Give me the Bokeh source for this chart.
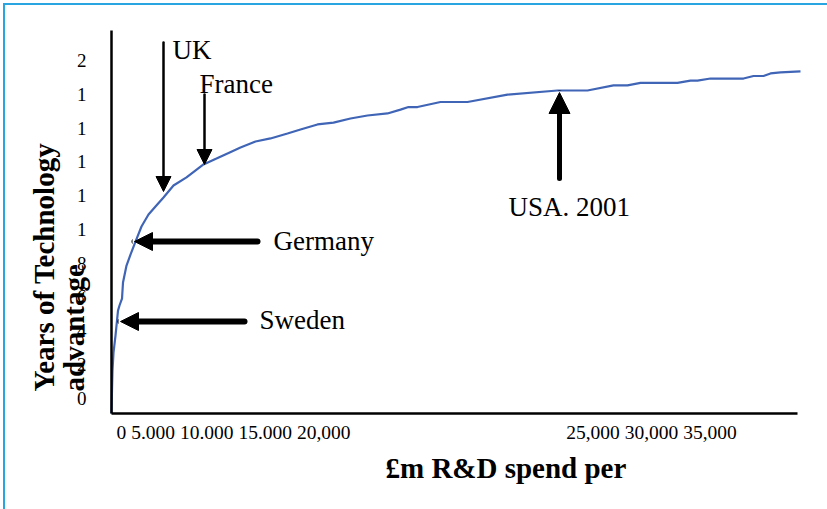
import math
from bokeh.plotting import figure
from bokeh.models import Range1d, LinearAxis, FixedTicker, Arrow, NormalHead, Label
from bokeh.embed import file_html
from bokeh.resources import INLINE

# ---------------- data ----------------
spend = [0, 29, 58, 116, 232, 377, 464, 609, 667, 870, 1101, 1391, 1739, 2145,
         2551, 3014, 3594, 4348, 5333, 6087, 6725, 7478, 8348, 9217, 10203,
         10957, 11942, 12870, 13855, 14841, 16000, 16754, 17217, 17739, 19072,
         20638, 22957, 25855, 27594, 29101, 29913, 30667, 32812, 33565, 33971,
         34725, 36638, 37217, 37797, 38203, 38783, 39942]
years = [0.00, 1.36, 2.55, 3.61, 4.62, 6.10, 6.40, 6.81, 7.76, 8.77, 9.42,
         10.19, 11.08, 11.79, 12.27, 12.80, 13.51, 13.99, 14.76, 15.11, 15.41,
         15.76, 16.12, 16.30, 16.59, 16.83, 17.13, 17.24, 17.48, 17.66, 17.78,
         18.01, 18.16, 18.16, 18.46, 18.46, 18.90, 19.14, 19.14, 19.44, 19.44,
         19.59, 19.59, 19.73, 19.73, 19.85, 19.85, 20.00, 20.00, 20.15, 20.21,
         20.27]

y_ticks = [0, 2, 4, 6, 8, 10, 12, 14, 16, 18, 20]
y_tick_labels = ["0", "2", "4", "6", "8", "1", "1", "1", "1", "1", "2"]
x_tick_labels = ["0 5.000 10.000 15.000 20,000", "25,000 30,000 35,000"]

countries = ["UK", "France", "Germany", "Sweden", "USA. 2001"]

y_title_lines = ["Years of Technology", "advantage"]
x_title = "£m R&D spend per"

# ---------------- layout (pixel <-> data helpers) ----------------
W, H = 827, 509
AX_L, AX_R, AX_T, AX_B = 111, 801, 30, 413   # axis corner pixels
X_MAX = 40000
PX_PER_YEAR = 16.875
LAB0_PX = 397.5                                # pixel row of the "0" tick label


def cx(px):
    return (px - AX_L) / (AX_R - AX_L) * X_MAX


def cy(py):
    return (AX_B - py) / PX_PER_YEAR


def cl(py):
    return (LAB0_PX - py) / PX_PER_YEAR


SERIF = "Liberation Serif"

p = figure(width=W, height=H, output_backend="svg", toolbar_location=None,
           x_range=Range1d(cx(0), cx(W)), y_range=Range1d(cy(H), cy(0)),
           x_axis_location=None, y_axis_location=None,
           min_border=0, min_border_left=0, min_border_right=0,
           min_border_top=0, min_border_bottom=0)
p.extra_y_ranges = {"ylab": Range1d(cl(H), cl(0))}
p.grid.visible = False
p.outline_line_color = None
p.background_fill_color = None
p.border_fill_color = None
p.styles = {"box-shadow": "inset 3px 3px 0 0 #ffffff, inset 5px 5px 0 0 #29A6E1"}

# x axis
x_tick_pos = [cx(233), cx(651)]
xa = LinearAxis(fixed_location=0, bounds=(0, cx(797)), ticker=FixedTicker(ticks=x_tick_pos))
xa.major_label_overrides = {t: s for t, s in zip(x_tick_pos, x_tick_labels)}
xa.major_tick_line_color = None
xa.minor_tick_line_color = None
xa.axis_line_width = 2.5
xa.axis_line_color = "black"
xa.major_label_text_font = SERIF
xa.major_label_text_font_size = "19.5px"
xa.major_label_text_color = "black"
xa.major_label_standoff = 2
p.add_layout(xa, "below")

# y axis
ya = LinearAxis(y_range_name="ylab", fixed_location=0, bounds=(cl(AX_B), cl(AX_T)),
                ticker=FixedTicker(ticks=y_ticks))
ya.major_label_overrides = {t: s for t, s in zip(y_ticks, y_tick_labels)}
ya.major_tick_line_color = None
ya.minor_tick_line_color = None
ya.axis_line_width = 2.5
ya.axis_line_color = "black"
ya.major_label_text_font = SERIF
ya.major_label_text_font_size = "19px"
ya.major_label_text_color = "black"
ya.major_label_standoff = 19
p.add_layout(ya, "left")

# curve
p.line(spend, years, line_color="#4065B6", line_width=2.2)

# arrows
arrows = [
    # (x0, y0, x1, y1, width, head)
    (163, 42, 163, 191, 2.5, 15),
    (204, 94, 204, 164, 2.5, 15),
    (257, 241, 134, 241, 6, 18),
    (244, 321, 120, 321, 6, 18),
    (559, 178, 559, 92, 5, 21),
]
for x0, y0, x1, y1, lw, hs in arrows:
    p.add_layout(Arrow(end=NormalHead(size=hs, fill_color="black", line_color="black", line_width=1),
                       x_start=cx(x0), y_start=cy(y0), x_end=cx(x1), y_end=cy(y1),
                       line_width=lw, line_color="black", line_cap="round"))

label_pos = [(172, 49), (199, 83), (273, 240), (259, 319), (508, 206)]
for name, (lx, ly) in zip(countries, label_pos):
    p.add_layout(Label(x=cx(lx), y=cy(ly), text=name, text_font=SERIF,
                       text_font_size="27px", text_color="black",
                       text_align="left", text_baseline="alphabetic"))

# axis titles
for txt, bx in zip(y_title_lines, [43, 73]):
    p.add_layout(Label(x=cx(bx), y=cy(391), text=txt, angle=math.pi / 2,
                       text_font=SERIF, text_font_size="29px", text_font_style="bold",
                       text_color="black", text_align="left", text_baseline="alphabetic"))
p.add_layout(Label(x=cx(385), y=cy(467), text=x_title, text_font=SERIF,
                   text_font_size="29px", text_font_style="bold", text_color="black",
                   text_align="left", text_baseline="alphabetic"))

open("out.html", "w").write(file_html(p, INLINE))
